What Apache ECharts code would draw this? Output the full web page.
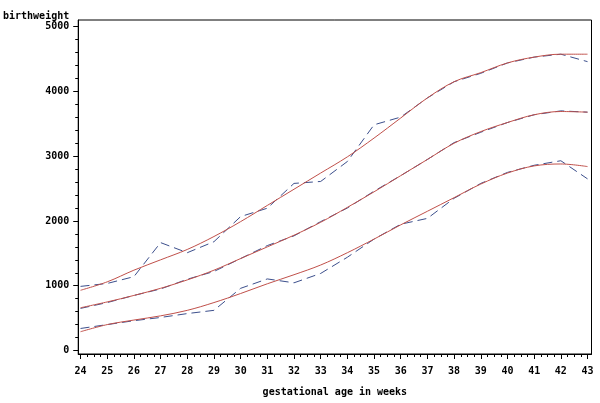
<!DOCTYPE html>
<html>
<head>
<meta charset="utf-8">
<script src="https://cdn.jsdelivr.net/npm/echarts@6/dist/echarts.min.js"></script>
<style>
  html, body { margin: 0; padding: 0; background: #ffffff; }
  #chart { width: 600px; height: 403px; }
</style>
</head>
<body>
<div id="chart"></div>
<script>
// gestational age (weeks)
var weeks = [24, 25, 26, 27, 28, 29, 30, 31, 32, 33, 34, 35, 36, 37, 38, 39, 40, 41, 42, 43];

// observed (dashed) percentile curves
var upperObserved  = [990, 1035, 1140, 1666, 1510, 1680, 2068, 2197, 2580, 2610, 2918, 3485, 3604, 3900, 4150, 4280, 4440, 4530, 4575, 4460];
var middleObserved = [650, 740, 850, 950, 1100, 1220, 1420, 1620, 1770, 1990, 2200, 2460, 2700, 2950, 3210, 3370, 3520, 3640, 3700, 3680];
var lowerObserved  = [340, 400, 460, 510, 570, 620, 960, 1105, 1045, 1190, 1440, 1720, 1950, 2040, 2350, 2580, 2750, 2860, 2930, 2650];

// fitted (smooth) percentile curves
var upperFitted  = [930, 1060, 1240, 1400, 1560, 1760, 1990, 2240, 2490, 2740, 2990, 3280, 3590, 3900, 4150, 4290, 4440, 4530, 4575, 4575];
var middleFitted = [660, 750, 850, 960, 1090, 1240, 1420, 1600, 1780, 1980, 2210, 2450, 2700, 2950, 3200, 3380, 3520, 3640, 3690, 3680];
var lowerFitted  = [290, 400, 470, 535, 620, 740, 880, 1030, 1170, 1320, 1510, 1720, 1940, 2150, 2360, 2570, 2740, 2850, 2880, 2840];

// tick labels
var xTickLabels = [24, 25, 26, 27, 28, 29, 30, 31, 32, 33, 34, 35, 36, 37, 38, 39, 40, 41, 42, 43];
var yTickLabels = [0, 1000, 2000, 3000, 4000, 5000];

var xTitle = 'gestational age in weeks';
var yTitle = 'birthweight';

function pairs(ys) { return weeks.map(function (w, i) { return [w, ys[i]]; }); }
function subdivide(ticks, parts) {
  var out = [];
  for (var i = 0; i < ticks.length - 1; i++) {
    var step = (ticks[i + 1] - ticks[i]) / parts;
    for (var k = 1; k < parts; k++) out.push(ticks[i] + k * step);
  }
  return out;
}

var font = 'DejaVu Sans Mono';
var dashColor = '#3c4f8c';
var fitColor = '#c0504a';
var txt = { color: '#000', fontFamily: font, fontWeight: 'bold', fontSize: 10 };

function dashed(name, ys) {
  return { name: name, type: 'line', data: pairs(ys), symbol: 'none', silent: true,
    lineStyle: { color: dashColor, width: 1, type: [9, 5] }, z: 2 };
}
function fitted(name, ys) {
  return { name: name, type: 'line', data: pairs(ys), symbol: 'none', smooth: 0.35, silent: true,
    lineStyle: { color: fitColor, width: 1 }, z: 3 };
}

// axis extents include the small SAS-style offset between data range and frame
var xMin = 23.914, xMax = 43.149;
var yMin = -54, yMax = 5103;

var chart = echarts.init(document.getElementById('chart'), null, { renderer: 'canvas' });
chart.setOption({
  animation: false,
  backgroundColor: '#ffffff',
  grid: { left: 76, right: 8.5, top: 20, bottom: 49, containLabel: false,
          show: true, borderColor: '#000', borderWidth: 1, backgroundColor: 'transparent' },
  xAxis: [{
    type: 'value', min: xMin, max: xMax, position: 'bottom',
    axisLine: { show: true, onZero: false, lineStyle: { color: '#000', width: 1 } },
    axisTick: { show: true, length: 5, customValues: xTickLabels, lineStyle: { color: '#000' } },
    splitLine: { show: false },
    axisLabel: Object.assign({ margin: 12, customValues: xTickLabels,
      formatter: function (v) { return String(Math.round(v)); } }, txt),
    name: xTitle, nameLocation: 'middle', nameGap: 33, nameTextStyle: txt
  }, {
    type: 'value', min: xMin, max: xMax, position: 'bottom', offset: 0,
    axisLine: { show: false, onZero: false },
    axisTick: { show: true, length: 3, customValues: subdivide(xTickLabels, 4), lineStyle: { color: '#000' } },
    axisLabel: { show: false }, splitLine: { show: false }
  }],
  yAxis: [{
    type: 'value', min: yMin, max: yMax, position: 'left',
    axisLine: { show: true, onZero: false, lineStyle: { color: '#000', width: 1 } },
    axisTick: { show: true, length: 5, customValues: yTickLabels, lineStyle: { color: '#000' } },
    splitLine: { show: false },
    axisLabel: Object.assign({ margin: 9, customValues: yTickLabels,
      formatter: function (v) { return String(Math.round(v)); } }, txt),
    name: yTitle, nameLocation: 'end', nameGap: -3,
    nameTextStyle: Object.assign({ align: 'right', padding: [0, 9, 0, 0] }, txt)
  }, {
    type: 'value', min: yMin, max: yMax, position: 'left', offset: 0,
    axisLine: { show: false, onZero: false },
    axisTick: { show: true, length: 3, customValues: subdivide(yTickLabels, 5), lineStyle: { color: '#000' } },
    axisLabel: { show: false }, splitLine: { show: false }
  }],
  series: [
    dashed('upper observed', upperObserved),
    dashed('middle observed', middleObserved),
    dashed('lower observed', lowerObserved),
    fitted('upper fitted', upperFitted),
    fitted('middle fitted', middleFitted),
    fitted('lower fitted', lowerFitted)
  ]
});
</script>
</body>
</html>
